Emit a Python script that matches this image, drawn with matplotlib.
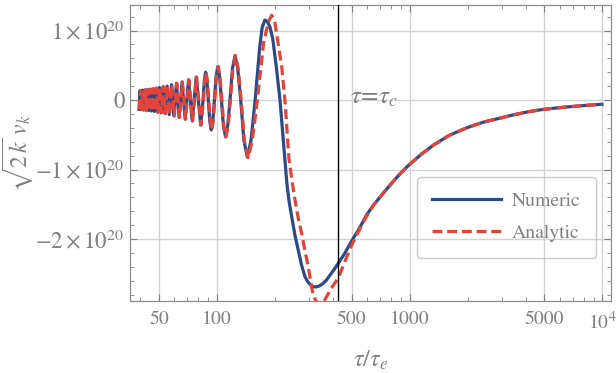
import matplotlib
matplotlib.use('Agg')
import matplotlib.pyplot as plt
from matplotlib.ticker import FixedLocator, LogLocator, NullFormatter, MultipleLocator

plt.rcParams['mathtext.fontset'] = 'stix'
plt.rcParams['font.family'] = ['STIXGeneral', 'Liberation Serif', 'DejaVu Serif']

# ---- data (values in units of 1e20) ----
tau_num = [39.40, 39.65, 39.91, 40.18, 40.45, 40.73, 41.01, 41.30, 41.59, 41.89,
           42.20, 42.52, 42.84, 43.17, 43.50, 43.85, 44.20, 44.56, 44.93, 45.31,
           45.70, 46.10, 46.51, 46.94, 47.37, 47.82, 48.27, 48.75, 49.23, 49.73,
           50.25, 50.79, 51.34, 51.91, 52.49, 53.10, 53.73, 54.39, 55.07, 55.77,
           56.50, 57.26, 58.06, 58.88, 59.75, 60.65, 61.59, 62.58, 63.62, 64.71,
           65.87, 67.08, 68.37, 69.73, 71.17, 72.72, 74.36, 76.12, 78.02, 80.06,
           82.27, 84.68, 85.96, 87.30, 88.71, 90.19, 91.75, 93.39, 95.13, 96.96,
           98.90, 100.96, 103.16, 105.51, 108.03, 110.74, 113.66, 116.82, 120.27, 124.04,
           128.18, 132.77, 137.90, 143.67, 150.22, 157.77, 166.58, 171.5, 177.05, 182.5,
           188.4, 194.7, 203.1, 212.3, 222.7, 230.5, 237.0, 244.2, 254.0, 264.2,
           275.0, 286.1, 295.0, 303.8, 314.0, 326.5, 340.0, 354.9, 370.0, 385.9,
           405.0, 426.1, 461.6, 509.7, 550.0, 598.6, 650, 700, 744.5, 822,
           900, 995, 1150, 1326, 1600, 1976, 2400, 2942, 3500, 4200,
           4936, 6000, 7211, 8500, 9950]
v_num = [-0.135, 0, 0.137, 0, -0.139, 0, 0.141, 0, -0.143, 0,
         0.145, 0, -0.147, 0, 0.150, 0, -0.152, 0, 0.155, 0,
         -0.158, 0, 0.160, 0, -0.165, 0, 0.170, 0, -0.175, 0,
         0.180, 0, -0.185, 0, 0.190, 0, -0.195, 0, 0.200, 0,
         -0.210, 0, 0.220, 0, -0.230, 0, 0.240, 0, -0.250, 0,
         0.260, 0, -0.275, 0, 0.290, 0, -0.300, 0, 0.330, 0,
         -0.360, 0, 0.280, 0.400, 0.280, 0, -0.305, -0.430, -0.305, 0,
         0.340, 0.480, 0.340, 0, -0.376, -0.530, -0.376, 0, 0.450, 0.640,
         0.450, 0, -0.580, -0.820, -0.580, 0, 0.760, 1.040, 1.150, 1.130,
         1.050, 0.880, 0.480, 0, -0.700, -1.200, -1.470, -1.680, -1.950, -2.160,
         -2.380, -2.540, -2.610, -2.650, -2.685, -2.690, -2.675, -2.640, -2.590, -2.520,
         -2.440, -2.350, -2.200, -1.990, -1.840, -1.650, -1.510, -1.400, -1.310, -1.170,
         -1.050, -0.930, -0.780, -0.650, -0.510, -0.400, -0.320, -0.260, -0.210, -0.165,
         -0.135, -0.110, -0.090, -0.074, -0.062]

tau_ana = [39.60, 39.85, 40.11, 40.38, 40.65, 40.93, 41.22, 41.51, 41.80, 42.10,
           42.41, 42.73, 43.05, 43.39, 43.72, 44.07, 44.42, 44.78, 45.15, 45.54,
           45.93, 46.33, 46.74, 47.17, 47.61, 48.06, 48.51, 48.99, 49.48, 49.98,
           50.50, 51.04, 51.60, 52.17, 52.75, 53.37, 54.00, 54.66, 55.35, 56.05,
           56.78, 57.55, 58.35, 59.17, 60.05, 60.95, 61.90, 62.89, 63.94, 65.03,
           66.20, 67.42, 68.71, 70.08, 71.53, 73.08, 74.73, 76.50, 78.41, 80.46,
           82.68, 85.10, 86.39, 87.74, 89.15, 90.64, 92.21, 93.86, 95.61, 97.44,
           99.39, 101.46, 103.68, 106.04, 108.57, 111.29, 114.23, 117.40, 120.87, 124.66,
           128.82, 133.50, 138.80, 145.10, 152.30, 162.00, 174.50, 184.5, 192.30, 199.5,
           208.0, 216.7, 225.2, 236.4, 245.0, 254.0, 264.0, 275.1, 286.0, 297.7,
           305.0, 311.2, 318.0, 326.5, 334.0, 342.3, 352.0, 363.5, 374.0, 385.9,
           405.0, 426.1, 447.0, 470.9, 500.0, 531.0, 565.0, 598.4, 650, 700,
           744.5, 822, 900, 995, 1150, 1326, 1600, 1976, 2400, 2942,
           3500, 4200, 4936, 6000, 7211, 8500, 9950]
v_ana = [-0.135, 0, 0.137, 0, -0.139, 0, 0.141, 0, -0.143, 0,
         0.145, 0, -0.147, 0, 0.150, 0, -0.152, 0, 0.155, 0,
         -0.158, 0, 0.160, 0, -0.165, 0, 0.170, 0, -0.175, 0,
         0.180, 0, -0.185, 0, 0.190, 0, -0.195, 0, 0.200, 0,
         -0.210, 0, 0.220, 0, -0.230, 0, 0.240, 0, -0.250, 0,
         0.260, 0, -0.275, 0, 0.290, 0, -0.300, 0, 0.330, 0,
         -0.360, 0, 0.280, 0.400, 0.280, 0, -0.305, -0.430, -0.305, 0,
         0.340, 0.480, 0.340, 0, -0.376, -0.530, -0.376, 0, 0.450, 0.640,
         0.450, 0, -0.590, -0.830, -0.590, 0, 0.820, 1.120, 1.220, 1.130,
         0.800, 0.480, 0, -0.850, -1.160, -1.440, -1.700, -1.920, -2.170, -2.400,
         -2.580, -2.720, -2.830, -2.890, -2.930, -2.940, -2.920, -2.870, -2.810, -2.740,
         -2.650, -2.560, -2.420, -2.260, -2.090, -1.940, -1.800, -1.670, -1.510, -1.400,
         -1.310, -1.170, -1.050, -0.930, -0.780, -0.650, -0.510, -0.400, -0.320, -0.260,
         -0.210, -0.165, -0.135, -0.110, -0.090, -0.074, -0.062]

tau_c = 426
xticks = [50, 100, 500, 1000, 5000, 10000]
xticklabels = ['50', '100', '500', '1000', '5000', r'$10^4$']
yticks = [1, 0, -1, -2]
yticklabels = [r'$1\times10^{20}$', '0', r'$-1\times10^{20}$', r'$-2\times10^{20}$']

GRAY = '#7f7f7f'
BLUE = '#2c4a86'
RED = '#e2443a'
FS = 14.2

fig = plt.figure(figsize=(6.16, 3.73), dpi=100)
ax = fig.add_axes([130/616, 72/373, 481/616, 296/373])
ax.set_xscale('log')
ax.set_xlim(35.37, 11083)
ax.set_ylim(-2.892, 1.367)

ax.plot(tau_num, v_num, color=BLUE, lw=2.3, label='Numeric', zorder=3,
        solid_joinstyle='round')
ln, = ax.plot(tau_ana, v_ana, color=RED, lw=2.3, label='Analytic', zorder=4)
ln.set_dashes([3.1, 1.5])

ax.axvline(tau_c, color='black', lw=1.0, zorder=5)
ax.text(488, 0.04, r'$\tau\!=\!\tau_c$', color=GRAY, fontsize=18, va='center', ha='left')

ax.xaxis.set_major_locator(FixedLocator(xticks))
ax.set_xticklabels(xticklabels)
ax.xaxis.set_minor_locator(LogLocator(base=10, subs=[2, 3, 4, 6, 7, 8, 9, 1, 5]))
ax.xaxis.set_minor_formatter(NullFormatter())
ax.set_yticks(yticks)
ax.set_yticklabels(yticklabels)
ax.yaxis.set_minor_locator(MultipleLocator(0.2))

ax.tick_params(which='both', direction='in', top=True, right=True, colors=GRAY,
               labelcolor=GRAY)
ax.tick_params(axis='x', labelsize=FS, pad=7)
ax.tick_params(axis='y', labelsize=16.5, pad=4)
ax.tick_params(which='major', length=5, width=0.8)
ax.tick_params(which='minor', length=3, width=0.6)
for s in ax.spines.values():
    s.set_color('#8c8c8c')
    s.set_linewidth(0.9)

ax.grid(True, which='major', color='#d2d2d2', lw=1.0, zorder=0)
ax.set_axisbelow(True)

ax.set_xlabel(r'$\tau/\tau_e$', fontsize=17.5, color=GRAY)
ax.xaxis.set_label_coords(0.5, -0.16)
ax.set_ylabel(r'$\sqrt{2\,k}\;v_k$', fontsize=17, color=GRAY)
ax.yaxis.set_label_coords(-0.198, 0.5)

leg = ax.legend(loc='upper left', bbox_to_anchor=(0.596, 0.42), borderaxespad=0,
                fontsize=FS, labelcolor=GRAY, handlelength=3.5, handletextpad=0.5,
                borderpad=0.8, labelspacing=0.7, fancybox=True, frameon=True)
fr = leg.get_frame()
fr.set_facecolor('none')
fr.set_edgecolor('#bdbdbd')
fr.set_linewidth(1.0)

fig.savefig('out.png', dpi=100)
